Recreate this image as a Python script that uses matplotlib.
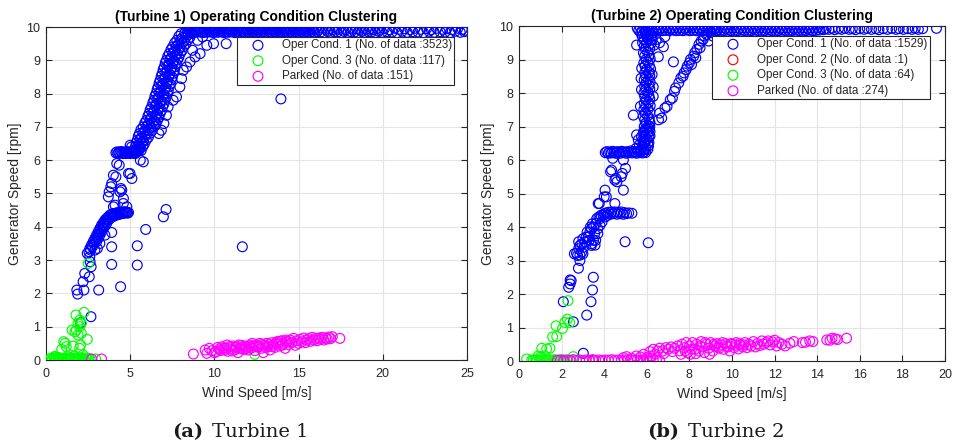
import numpy as np
import matplotlib
matplotlib.use("Agg")
import matplotlib.pyplot as plt

# ---------------- Turbine 1 data (wind speed, generator speed) ----------------
t1_op1_top = [
(8.35,9.95),(8.42,9.84),(8.48,9.92),(8.55,9.87),(8.61,9.96),(8.67,9.83),(8.73,9.93),(8.8,9.86),(8.86,9.95),(8.93,9.84),
(8.99,9.92),(9.05,9.88),(9.12,9.96),(9.18,9.85),(9.24,9.93),(9.31,9.83),(9.37,9.95),(9.44,9.87),(9.5,9.92),(9.56,9.84),
(9.63,9.96),(9.69,9.86),(9.75,9.93),(9.82,9.85),(9.88,9.95),(9.95,9.83),(10.01,9.92),(10.07,9.87),(10.14,9.96),(10.2,9.84),
(10.26,9.93),(10.33,9.86),(10.39,9.95),(10.46,9.85),(10.52,9.92),(10.58,9.83),(10.65,9.96),(10.71,9.87),(10.77,9.93),(10.84,9.84),
(10.9,9.95),(10.97,9.86),(11.03,9.92),(11.09,9.85),(11.16,9.96),(11.22,9.83),(11.28,9.93),(11.35,9.87),(11.41,9.95),(11.48,9.84),
(11.54,9.92),(11.6,9.86),(11.67,9.96),(11.73,9.85),(11.79,9.93),(11.86,9.83),(11.92,9.95),(11.99,9.87),(12.05,9.92),(12.11,9.84),
(12.18,9.96),(12.24,9.86),(12.3,9.93),(12.37,9.85),(12.43,9.95),(12.5,9.83),(12.56,9.92),(12.62,9.87),(12.69,9.96),(12.75,9.84),
(12.81,9.93),(12.88,9.86),(12.94,9.95),(13.01,9.85),(13.07,9.92),(13.13,9.83),(13.2,9.96),(13.26,9.87),(13.32,9.93),(13.39,9.84),
(13.45,9.95),(13.52,9.86),(13.58,9.92),(13.64,9.85),(13.71,9.96),(13.77,9.83),(13.83,9.93),(13.9,9.87),(13.96,9.95),(14.03,9.84),
(14.09,9.92),(14.15,9.86),(14.22,9.96),(14.28,9.85),(14.34,9.93),(14.41,9.83),(14.47,9.95),(14.54,9.87),(14.6,9.92),(14.66,9.84),
(14.73,9.96),(14.79,9.86),(14.85,9.93),(14.92,9.85),(14.98,9.95),(15.05,9.83),(15.11,9.92),(15.17,9.87),(15.24,9.96),(15.3,9.84),
(15.36,9.93),(15.43,9.86),(15.49,9.95),(15.56,9.85),(15.62,9.92),(15.68,9.83),(15.75,9.96),(15.81,9.87),(15.87,9.93),(15.94,9.84),
(16.0,9.95),(16.1,9.86),(16.2,9.92),(16.31,9.85),(16.41,9.96),(16.5,9.83),(16.6,9.93),(16.72,9.87),(16.82,9.95),(16.9,9.84),
(17.01,9.92),(17.12,9.86),(17.22,9.96),(17.3,9.85),(17.4,9.93),(17.52,9.83),(17.63,9.95),(17.7,9.87),(17.81,9.92),(17.93,9.84),
(18.03,9.96),(18.12,9.86),(18.22,9.93),(18.33,9.85),(18.44,9.95),(18.52,9.83),(18.61,9.92),(18.74,9.87),(18.85,9.96),(18.93,9.84),
(19.02,9.93),(19.14,9.86),(19.24,9.95),(19.33,9.85),(19.43,9.92),(19.55,9.83),(19.66,9.96),(19.75,9.87),(19.84,9.93),(19.95,9.84),
(20.1,9.95),(20.25,9.86),(20.38,9.92),(20.55,9.85),(20.71,9.96),(20.85,9.83),(20.95,9.93),(21.15,9.87),(21.3,9.95),(21.45,9.84),
(21.62,9.92),(21.78,9.86),(21.9,9.96),(22.1,9.85),(22.25,9.93),(22.42,9.83),(22.6,9.95),(22.75,9.87),(22.88,9.92),(23.05,9.84),
(23.2,9.96),(23.4,9.86),(23.55,9.93),(23.7,9.85),(23.8,9.95),(24.0,9.83),(24.1,9.92),(24.3,9.87),(24.45,9.96),(24.6,9.84),
(24.72,9.93),(24.85,9.86),(24.9,9.9)]

t1_op1_ramp = [
(5.25,6.3),(5.38,6.28),(5.52,6.33),(5.65,6.29),
(5.3,6.4),(5.45,6.42),(5.6,6.38),(5.75,6.41),
(5.36,6.52),(5.52,6.48),(5.68,6.51),(5.84,6.49),
(5.42,6.6),(5.6,6.62),(5.78,6.58),(5.96,6.61),
(5.48,6.72),(5.68,6.68),(5.88,6.71),(6.08,6.69),
(5.55,6.8),(5.76,6.82),(5.98,6.78),(6.19,6.81),
(5.64,6.92),(5.86,6.88),(6.08,6.91),(6.3,6.89),
(5.77,7.0),(5.99,7.02),(6.21,6.98),(6.43,7.01),
(5.87,7.12),(6.09,7.08),(6.31,7.11),(6.53,7.09),
(5.97,7.2),(6.19,7.22),(6.41,7.18),(6.63,7.21),
(6.05,7.32),(6.27,7.28),(6.49,7.31),(6.71,7.29),
(6.12,7.4),(6.34,7.42),(6.56,7.38),(6.78,7.41),
(6.19,7.52),(6.41,7.48),(6.63,7.51),(6.85,7.49),
(6.27,7.6),(6.49,7.62),(6.71,7.58),(6.93,7.61),
(6.34,7.72),(6.56,7.68),(6.78,7.71),(7.0,7.69),
(6.41,7.8),(6.63,7.82),(6.85,7.78),(7.07,7.81),
(6.47,7.92),(6.69,7.88),(6.91,7.91),(7.13,7.89),
(6.54,8.0),(6.76,8.02),(6.98,7.98),(7.2,8.01),
(6.6,8.12),(6.82,8.08),(7.04,8.11),(7.26,8.09),
(6.66,8.2),(6.88,8.22),(7.1,8.18),(7.32,8.21),
(6.72,8.32),(6.94,8.28),(7.16,8.31),(7.38,8.29),
(6.78,8.4),(7.0,8.42),(7.22,8.38),(7.44,8.41),
(6.84,8.52),(7.06,8.48),(7.28,8.51),(7.5,8.49),
(6.9,8.6),(7.12,8.62),(7.34,8.58),(7.56,8.61),
(6.96,8.72),(7.18,8.68),(7.4,8.71),(7.62,8.69),
(7.02,8.8),(7.24,8.82),(7.46,8.78),(7.68,8.81),
(7.08,8.92),(7.3,8.88),(7.52,8.91),(7.74,8.89),
(7.15,9.0),(7.37,9.02),(7.59,8.98),(7.81,9.01),
(7.23,9.12),(7.45,9.08),(7.67,9.11),(7.89,9.09),
(7.32,9.2),(7.54,9.22),(7.76,9.18),(7.98,9.21),
(7.42,9.32),(7.64,9.28),(7.86,9.31),(8.08,9.29),
(7.52,9.4),(7.74,9.42),(7.96,9.38),(8.18,9.41),
(7.64,9.52),(7.86,9.48),(8.08,9.51),(8.3,9.49),
(7.77,9.6),(7.99,9.62),(8.21,9.58),(8.43,9.61),
(7.89,9.72),(8.11,9.68),(8.33,9.71),(8.55,9.69),
(8.02,9.8),(8.24,9.82),(8.46,9.78),(8.68,9.81),
(7.15,7.35),(7.25,7.6),(7.55,7.8),(7.75,7.9),(7.95,8.2),(8.05,8.45),(8.15,8.7),(8.35,8.8),
(8.55,8.95),(8.85,9.1),(9.15,9.2),(9.55,9.45),(9.95,9.5),(10.7,9.5),(8.7,9.3),(9.0,9.6),
(9.3,9.7),(13.95,7.84),(6.85,6.9),(7.0,7.1),(6.7,6.8),(5.08,6.4),(5.3,6.2)]

t1_op1_step = [
(4.15,6.22),(4.21,6.25),(4.27,6.2),(4.33,6.24),(4.39,6.21),(4.45,6.26),(4.51,6.22),(4.57,6.2),
(4.63,6.25),(4.69,6.23),(4.75,6.2),(4.81,6.26),(4.87,6.22),(4.93,6.24),(4.99,6.2),(5.05,6.25),
(5.11,6.22),(5.17,6.27),(5.23,6.21),(5.29,6.25),(5.35,6.23),(5.41,6.28),(5.47,6.26),(5.53,6.3)]

t1_op1_low = [
(2.55,3.25),(2.6,3.35),(2.65,3.3),(2.7,3.45),(2.75,3.4),(2.8,3.55),(2.85,3.5),(2.9,3.65),(2.95,3.6),
(3.0,3.75),(3.0,3.55),(3.05,3.7),(3.1,3.85),(3.1,3.65),(3.15,3.8),(3.2,3.95),(3.2,3.75),(3.25,3.9),
(3.3,4.05),(3.3,3.85),(3.35,4.0),(3.4,4.12),(3.4,3.95),(3.45,4.08),(3.5,4.2),(3.5,4.02),(3.55,4.15),
(3.6,4.25),(3.6,4.1),(3.65,4.2),(3.7,4.3),(3.75,4.22),(3.8,4.35),(3.85,4.28),(3.9,4.38),(3.95,4.3),
(4.0,4.4),(4.05,4.33),(4.1,4.4),(4.15,4.35),(4.2,4.42),(4.25,4.36),(4.3,4.43),(4.35,4.38),(4.4,4.44),
(4.45,4.39),(4.5,4.44),(4.55,4.4),(4.6,4.45),(4.65,4.41),(4.7,4.45),(4.75,4.42),(4.8,4.44),(4.85,4.41),
(4.9,4.43),(2.6,3.1),(2.45,3.2),(2.9,3.3),(3.2,3.5),(3.5,3.75),(3.05,3.35)]

t1_op1_sparse = [
(1.83,2.1),(1.88,1.98),(2.25,2.1),(2.2,2.35),(2.3,2.6),(2.57,2.5),(2.68,2.8),(2.62,2.95),(3.13,2.1),
(2.67,1.3),(2.05,1.12),(3.9,3.83),(3.9,3.4),(3.9,2.87),(4.43,2.2),(5.42,3.43),(5.42,2.85),(5.92,3.92),
(6.97,4.3),(7.13,4.52),(11.66,3.4),(4.0,4.6),(4.59,4.7),(4.8,4.6),(4.1,4.65),(3.7,4.9),(3.85,5.2),
(3.9,5.3),(4.0,5.55),(4.2,5.9),(4.35,5.85),(4.4,5.05),(4.5,5.1),(4.6,4.85),(4.9,5.6),(4.99,5.6),
(5.1,5.45),(5.78,5.95),(5.6,6.0),(5.0,6.45),(3.75,5.05),(4.15,5.5),(4.45,5.15)]

t1_op3 = [
(0.22,0.03),(0.3,0.05),(0.38,0.02),(0.46,0.06),(0.54,0.03),(0.62,0.05),(0.7,0.02),(0.78,0.06),
(0.86,0.03),(0.94,0.05),(1.02,0.02),(1.1,0.06),(1.18,0.03),(1.26,0.05),(1.34,0.02),(1.42,0.06),
(1.5,0.03),(1.58,0.05),(1.66,0.02),(1.74,0.06),(1.82,0.03),(1.9,0.05),(1.98,0.02),(2.06,0.06),
(2.14,0.03),(2.22,0.05),(2.3,0.02),(2.38,0.06),(2.46,0.03),(2.54,0.05),(2.62,0.02),(2.95,0.03),
(0.5,0.1),(0.7,0.08),(1.3,0.1),(1.7,0.12),(2.2,0.15),
(0.53,0.1),(0.93,0.32),(1.13,0.5),(1.05,0.55),(1.2,0.4),(1.62,0.42),(1.72,0.85),(1.8,0.9),
(1.78,1.35),(1.9,0.75),(2.0,1.0),(2.1,1.1),(2.0,1.2),(2.26,1.43),(2.05,0.45),(2.0,0.35),
(2.45,0.62),(2.1,0.8),(1.9,1.1),(1.55,0.9),(2.51,2.9),(12.4,0.17)]

t1_parked = [
(2.71,0.03),(3.3,0.03),(8.75,0.18),(9.45,0.3),(9.55,0.2),(9.7,0.35),(9.85,0.28),(10.0,0.22),
(10.1,0.25),(10.2,0.38),(10.35,0.28),(10.45,0.4),(10.6,0.3),(10.7,0.36),(10.8,0.26),(10.9,0.4),
(11.0,0.33),(11.1,0.42),(11.2,0.3),(11.3,0.4),(11.4,0.22),(11.5,0.35),(11.6,0.44),(11.7,0.32),
(11.8,0.42),(11.9,0.38),(12.0,0.3),(12.1,0.45),(12.2,0.36),(12.3,0.42),(12.4,0.28),(12.5,0.46),
(12.6,0.38),(12.7,0.5),(12.8,0.35),(12.9,0.22),(13.0,0.44),(13.1,0.5),(13.2,0.4),(13.3,0.3),
(13.4,0.52),(13.5,0.45),(13.6,0.38),(13.7,0.55),(13.8,0.48),(13.9,0.42),(14.0,0.58),(14.1,0.5),
(14.2,0.35),(14.3,0.55),(14.4,0.46),(14.5,0.6),(14.6,0.52),(14.7,0.65),(14.8,0.44),(14.9,0.58),
(15.0,0.5),(15.1,0.62),(15.2,0.55),(15.3,0.66),(15.4,0.52),(15.5,0.6),(15.6,0.64),(15.7,0.56),
(15.8,0.68),(15.9,0.6),(16.0,0.65),(16.1,0.58),(16.2,0.66),(16.3,0.62),(16.4,0.68),(16.5,0.6),
(16.6,0.66),(16.7,0.63),(16.8,0.69),(16.9,0.64),(17.0,0.7),(17.45,0.65),
(10.3,0.33),(10.55,0.35),(10.75,0.45),(11.05,0.27),(11.25,0.37),(11.45,0.45),(11.65,0.38),
(11.85,0.33),(12.05,0.4),(12.25,0.5),(12.45,0.4),(12.65,0.43),(12.85,0.47),(13.05,0.38),
(13.25,0.47),(13.45,0.4),(13.65,0.5),(13.85,0.56),(14.05,0.45),(14.25,0.6),(14.45,0.54)]

t1_labels = ["Oper Cond. 1 (No. of data :3523)", "Oper Cond. 3 (No. of data :117)",
             "Parked (No. of data :151)"]

# ---------------- Turbine 2 data ----------------
t2_op1_top = [
(5.55,9.94),(5.62,9.87),(5.7,9.95),(5.78,9.86),(5.86,9.93),(5.94,9.88),(6.02,9.95),(6.1,9.86),(6.18,9.94),(6.26,9.87),
(6.34,9.95),(6.42,9.86),(6.5,9.93),(6.58,9.88),(6.66,9.95),(6.74,9.86),(6.82,9.94),(6.9,9.87),(6.98,9.95),(7.06,9.86),
(7.14,9.93),(7.22,9.88),(7.3,9.95),(7.38,9.86),(7.46,9.94),(7.54,9.87),(7.62,9.95),(7.7,9.86),(7.78,9.93),(7.86,9.88),
(7.94,9.95),(8.02,9.86),(8.1,9.94),(8.18,9.87),(8.26,9.95),(8.34,9.86),(8.42,9.93),(8.5,9.88),(8.58,9.95),(8.66,9.86),
(8.74,9.94),(8.82,9.87),(8.9,9.95),(8.98,9.86),(9.06,9.93),(9.14,9.88),(9.22,9.95),(9.3,9.86),(9.38,9.94),(9.46,9.87),
(9.54,9.95),(9.62,9.86),(9.7,9.93),(9.78,9.88),(9.86,9.95),(9.94,9.86),(10.02,9.94),(10.1,9.87),(10.18,9.95),(10.26,9.86),
(10.34,9.93),(10.42,9.88),(10.5,9.95),(10.58,9.86),(10.66,9.94),(10.74,9.87),(10.82,9.95),(10.9,9.86),(10.98,9.93),(11.06,9.88),
(11.14,9.95),(11.22,9.86),(11.3,9.94),(11.38,9.87),(11.46,9.95),(11.54,9.86),(11.62,9.93),(11.7,9.88),(11.78,9.95),(11.86,9.86),
(11.94,9.94),(12.02,9.87),(12.1,9.95),(12.18,9.86),(12.26,9.93),(12.34,9.88),(12.42,9.95),(12.5,9.86),(12.58,9.94),(12.66,9.87),
(12.74,9.95),(12.82,9.86),(12.9,9.93),(12.98,9.88),(13.06,9.95),(13.14,9.86),(13.22,9.94),(13.3,9.87),(13.38,9.95),(13.46,9.86),
(13.54,9.93),(13.62,9.88),(13.7,9.95),(13.78,9.86),(13.86,9.94),(13.94,9.87),(14.02,9.95),(14.1,9.88),(14.2,9.93),(14.3,9.89),
(14.42,9.92),(14.55,9.9),(14.7,9.93),(14.82,9.89),(15.0,9.92),(15.15,9.9),(15.3,9.93),(15.5,9.9),(15.65,9.92),(15.8,9.89),
(16.0,9.92),(16.2,9.9),(16.35,9.93),(16.55,9.9),(16.75,9.92),(16.9,9.89),(17.1,9.92),(17.3,9.9),(17.5,9.93),(17.7,9.9),
(17.85,9.92),(18.05,9.9),(18.25,9.92),(18.45,9.9),(18.6,9.93),(18.75,9.9),(18.95,9.92),(19.6,9.93)]

t2_op1_steep = [
(5.85,6.3),(6.05,6.32),(5.82,6.4),(6.08,6.42),(5.88,6.5),(6.1,6.52),(5.8,6.6),(6.02,6.62),
(5.9,6.7),(6.15,6.72),(5.85,6.8),(6.05,6.82),(5.92,6.9),(6.12,6.92),(5.88,7.0),(6.08,7.02),
(5.95,7.1),(6.15,7.12),(5.9,7.2),(6.1,7.22),(5.84,7.3),(6.04,7.32),(5.92,7.4),(6.14,7.42),
(5.86,7.5),(6.06,7.52),(5.94,7.6),(6.16,7.62),(5.88,7.7),(6.08,7.72),(5.96,7.8),(6.14,7.82),
(5.9,7.9),(6.1,7.92),(5.86,8.0),(6.06,8.02),(5.94,8.1),(6.14,8.12),(5.9,8.2),(6.1,8.22),
(5.96,8.3),(6.16,8.32),(5.88,8.4),(6.08,8.42),(5.94,8.5),(6.14,8.52),(5.9,8.6),(6.1,8.62),
(5.98,8.7),(6.18,8.72),(5.92,8.8),(6.12,8.82),(5.86,8.9),(6.06,8.92),(5.96,9.0),(6.16,9.02),
(5.9,9.1),(6.1,9.12),(5.84,9.2),(6.04,9.22),(5.94,9.3),(6.14,9.32),(5.88,9.4),(6.08,9.42),
(5.8,9.5),(6.0,9.52),(6.2,9.48),(5.86,9.6),(6.06,9.62),(6.25,9.58),(5.78,9.7),(5.98,9.72),
(6.18,9.68),(5.72,9.8),(5.92,9.82),(6.12,9.78),(6.3,9.8),
(5.52,9.43),(5.76,8.74),(5.73,8.44),(5.37,7.34),(6.3,7.9),(6.3,8.18),(6.14,7.0),(6.78,9.38),
(6.85,9.68),(6.54,9.08),(6.35,9.43),(6.3,9.7),(5.85,6.55),(5.52,6.75),(6.45,9.6),(6.6,9.5),
(6.25,8.55),(5.7,7.6),(5.75,8.1)]

t2_op1_slope = [
(6.55,7.2),(6.7,7.25),(6.6,7.4),(6.85,7.55),(6.95,7.6),(7.1,7.8),(7.2,7.85),(7.3,8.05),
(7.35,8.15),(7.5,8.3),(7.6,8.45),(7.7,8.5),(7.75,8.6),(7.85,8.7),(7.9,8.8),(8.0,8.9),
(8.05,9.0),(8.1,8.85),(8.2,9.1),(8.25,9.2),(8.3,9.05),(8.35,9.3),(8.45,9.45),(8.5,9.35),
(8.55,9.55),(8.65,9.6),(8.7,9.7),(8.8,9.75),(8.9,9.55),(9.0,9.8),(9.1,9.7),(9.25,9.85),
(7.25,8.93)]

t2_op1_step = [
(4.05,6.22),(4.12,6.25),(4.19,6.2),(4.26,6.24),(4.33,6.21),(4.4,6.26),(4.47,6.22),(4.54,6.2),
(4.61,6.25),(4.68,6.23),(4.75,6.2),(4.82,6.26),(4.89,6.22),(4.96,6.24),(5.03,6.2),(5.1,6.25),
(5.17,6.22),(5.24,6.27),(5.31,6.21),(5.38,6.25),(5.45,6.23),(5.52,6.2),(5.59,6.26),(5.66,6.22),
(5.73,6.25),(5.8,6.21),(5.87,6.24),(5.94,6.22),
(5.5,6.35),(5.65,6.45),(5.8,6.4),(5.95,6.35),(5.6,6.6),(5.75,6.7),(5.9,6.55),(6.05,6.5),
(6.1,6.7),(5.85,6.85),(6.0,6.95),(6.15,6.85),(5.7,6.3)]

t2_op1_low = [
(2.6,3.2),(2.7,3.22),(2.75,3.15),(2.86,3.16),(2.95,3.25),(3.0,3.2),(2.8,3.35),(2.86,3.45),
(2.8,3.56),(2.95,3.5),(3.05,3.4),(3.1,3.55),(3.0,3.65),(3.15,3.7),(3.25,3.7),(3.2,3.85),
(3.33,3.85),(3.3,3.6),(3.4,3.5),(3.57,3.46),(3.5,3.6),(3.4,3.95),(3.5,4.0),(3.45,4.1),
(3.55,3.8),(3.6,4.1),(3.7,3.8),(3.65,4.25),(3.7,3.95),(3.75,4.3),(3.8,4.25),(3.8,4.05),
(3.85,4.35),(3.9,4.15),(3.95,4.35),(4.0,4.4),(4.05,4.3),(4.1,4.42),(4.15,4.35),(4.2,4.44),
(4.3,4.38),(4.35,4.45),(4.45,4.4),(4.5,4.45),(4.6,4.38),(4.65,4.44),(4.75,4.4),(4.8,4.45),
(4.9,4.38),(4.95,4.43),(5.05,4.4),(5.15,4.42),(5.3,4.41),(3.35,4.0),(3.6,3.6),(3.4,3.45)]

t2_op1_sparse = [
(2.79,2.77),(2.86,3.0),(2.4,2.42),(2.33,2.2),(2.4,2.3),(2.45,2.4),(2.08,1.77),(2.55,1.17),
(3.18,1.37),(3.38,1.77),(3.45,2.12),(3.49,2.5),(3.02,0.23),(3.77,4.7),(4.0,4.9),(4.5,4.7),
(4.04,5.1),(4.1,4.9),(4.9,5.1),(4.35,5.7),(4.3,5.65),(4.9,6.0),(4.8,5.5),(5.0,5.75),
(4.5,5.4),(4.55,5.45),(4.6,5.35),(4.85,5.6),(4.4,6.05),(3.72,4.7),(4.98,3.56),(6.07,3.53)]

t2_op2 = [(3.5,0.02)]

t2_op3 = [
(0.36,0.06),(0.6,0.03),(0.67,0.03),(0.75,0.02),(0.85,0.04),(0.95,0.02),(1.05,0.03),(1.15,0.02),
(1.25,0.04),(1.35,0.02),(1.45,0.03),(1.55,0.02),(1.65,0.04),(1.75,0.02),(1.85,0.03),(1.95,0.02),
(2.05,0.04),(2.15,0.02),(2.3,0.03),(2.45,0.02),(0.9,0.15),(1.0,0.12),(1.2,0.15),
(1.07,0.38),(1.3,0.36),(1.45,0.38),(1.58,0.72),(1.77,0.73),(1.74,1.05),(2.04,0.97),(2.15,1.15),
(2.27,1.25),(2.38,1.15),(2.3,1.8),(2.55,0.13)]

t2_parked = [
(1.8,0.02),(1.95,0.03),(2.1,0.01),(2.25,0.03),(2.4,0.02),(2.55,0.04),(2.7,0.02),(2.85,0.03),
(3.0,0.01),(3.15,0.03),(3.3,0.02),(3.45,0.04),(3.6,0.02),(3.75,0.03),(3.9,0.01),(4.05,0.03),
(4.2,0.02),(4.35,0.04),(4.5,0.02),(4.65,0.03),(4.8,0.01),(4.95,0.03),(5.1,0.02),(5.25,0.04),
(5.4,0.02),(5.55,0.03),(5.7,0.01),(5.85,0.03),(6.0,0.02),(6.15,0.04),(6.3,0.02),(6.45,0.03),
(6.6,0.01),
(4.9,0.1),(5.05,0.13),(5.3,0.08),(5.5,0.15),(5.7,0.12),(5.85,0.2),(6.0,0.1),(6.15,0.28),
(6.3,0.35),(6.4,0.2),(6.5,0.3),(6.6,0.38),(6.75,0.3),(6.9,0.4),(7.0,0.35),(7.15,0.42),
(7.3,0.38),(7.45,0.45),(7.55,0.3),(7.65,0.5),(7.75,0.4),(7.85,0.55),(7.9,0.25),(8.0,0.45),
(8.05,0.2),(8.15,0.55),(8.25,0.35),(8.35,0.5),(8.45,0.3),(8.55,0.58),(8.6,0.42),(8.7,0.25),
(8.8,0.5),(8.9,0.38),(9.0,0.55),(9.1,0.3),(9.2,0.45),(9.3,0.52),(9.4,0.38),(9.5,0.48),
(9.6,0.35),(9.7,0.52),(9.8,0.42),(9.9,0.3),(10.0,0.5),(10.1,0.4),(10.2,0.55),(10.3,0.36),
(10.4,0.48),(10.5,0.42),(10.6,0.55),(10.7,0.4),(10.8,0.5),(10.9,0.45),(11.0,0.58),(11.1,0.42),
(11.2,0.52),(11.3,0.46),(11.4,0.6),(11.5,0.5),(11.6,0.55),(11.7,0.6),(11.8,0.48),(11.9,0.57),
(12.0,0.62),(12.1,0.45),(12.2,0.55),(12.35,0.5),(12.5,0.45),(12.72,0.53),(12.9,0.58),(13.3,0.55),
(13.45,0.56),(13.65,0.6),(13.8,0.58),(14.45,0.63),(14.6,0.62),(14.7,0.68),(14.85,0.66),(14.95,0.64),
(15.38,0.68),
(7.6,0.2),(7.8,0.3),(8.1,0.35),(8.3,0.22),(8.5,0.45),(8.75,0.55),(8.95,0.2),(9.15,0.5),
(9.35,0.42),(9.55,0.55),(9.75,0.45),(9.95,0.52),(10.15,0.47),(10.35,0.52),(10.55,0.48),
(6.2,0.15),(6.8,0.22),(7.2,0.28)]

t2_labels = ["Oper Cond. 1 (No. of data :1529)", "Oper Cond. 2 (No. of data :1)",
             "Oper Cond. 3 (No. of data :64)", "Parked (No. of data :274)"]

BLUE, RED, GREEN, MAGENTA = "#0000ff", "#ff0000", "#00ff00", "#ff00ff"
DARK = "#262626"
plt.rcParams["font.family"] = ["Liberation Sans", "DejaVu Sans"]


def xy(*groups):
    pts = [p for g in groups for p in g]
    a = np.array(pts, dtype=float)
    return a[:, 0], a[:, 1]


def draw(ax, series, xmax, xticks, title, leg_anchor):
    for pts, color, label in series:
        x, y = xy(*pts)
        ax.scatter(x, y, s=50, facecolors="none", edgecolors=color,
                   linewidths=0.85, label=label, zorder=3)
    ax.set_xlim(0, xmax)
    ax.set_ylim(0, 10)
    ax.set_xticks(xticks)
    ax.set_yticks(range(0, 11))
    ax.grid(True, color="#e4e4e4", linewidth=0.8)
    ax.set_axisbelow(True)
    ax.tick_params(direction="in", top=True, right=True, length=4, width=0.8,
                   colors=DARK, labelsize=9)
    ax.tick_params(axis="x", pad=6)
    ax.tick_params(axis="y", pad=4)
    for sp in ax.spines.values():
        sp.set_color(DARK)
        sp.set_linewidth(0.8)
    ax.set_title(title, fontsize=10, fontweight="bold", color="black", pad=4)
    ax.set_xlabel("Wind Speed [m/s]", fontsize=10, color=DARK, labelpad=4)
    ax.set_ylabel("Generator Speed [rpm]", fontsize=10, color=DARK, labelpad=3)
    leg = ax.legend(loc="upper left", bbox_to_anchor=leg_anchor, fontsize=8.4,
                    scatterpoints=1, fancybox=False, framealpha=1,
                    edgecolor=DARK, borderpad=0.2, handlelength=3.2,
                    handletextpad=0.45, labelspacing=0.3, borderaxespad=0)
    leg.get_frame().set_linewidth(0.8)
    for t in leg.get_texts():
        t.set_color(DARK)


fig = plt.figure(figsize=(9.61, 4.44), dpi=100)
ax1 = fig.add_axes([46 / 961, 1 - 360 / 444, 421 / 961, 333 / 444])
ax2 = fig.add_axes([519 / 961, 1 - 361 / 444, 426 / 961, 335 / 444])

draw(ax1,
     [((t1_op1_top, t1_op1_ramp, t1_op1_step, t1_op1_low, t1_op1_sparse), BLUE, t1_labels[0]),
      ((t1_op3,), GREEN, t1_labels[1]),
      ((t1_parked,), MAGENTA, t1_labels[2])],
     25, range(0, 26, 5), "(Turbine 1) Operating Condition Clustering",
     ((237 - 46) / 421, 1 - (37 - 27) / 333))

draw(ax2,
     [((t2_op1_top, t2_op1_steep, t2_op1_slope, t2_op1_step, t2_op1_low, t2_op1_sparse), BLUE, t2_labels[0]),
      ((t2_op2,), RED, t2_labels[1]),
      ((t2_op3,), GREEN, t2_labels[2]),
      ((t2_parked,), MAGENTA, t2_labels[3])],
     20, range(0, 21, 2), "(Turbine 2) Operating Condition Clustering",
     ((712 - 519) / 426, 1 - (36 - 26) / 335))

# captions
cap_y = 1 - 437 / 444
fig.text(172 / 961, cap_y, "(a)", fontsize=14, fontweight="bold",
         family="DejaVu Serif", color="#1a1a1a", va="baseline", ha="left")
fig.text(212 / 961, cap_y, "Turbine 1", fontsize=14,
         family="DejaVu Serif", color="#1a1a1a", va="baseline", ha="left")
fig.text(647 / 961, cap_y, "(b)", fontsize=14, fontweight="bold",
         family="DejaVu Serif", color="#1a1a1a", va="baseline", ha="left")
fig.text(688 / 961, cap_y, "Turbine 2", fontsize=14,
         family="DejaVu Serif", color="#1a1a1a", va="baseline", ha="left")

fig.savefig("out.png", dpi=100)
